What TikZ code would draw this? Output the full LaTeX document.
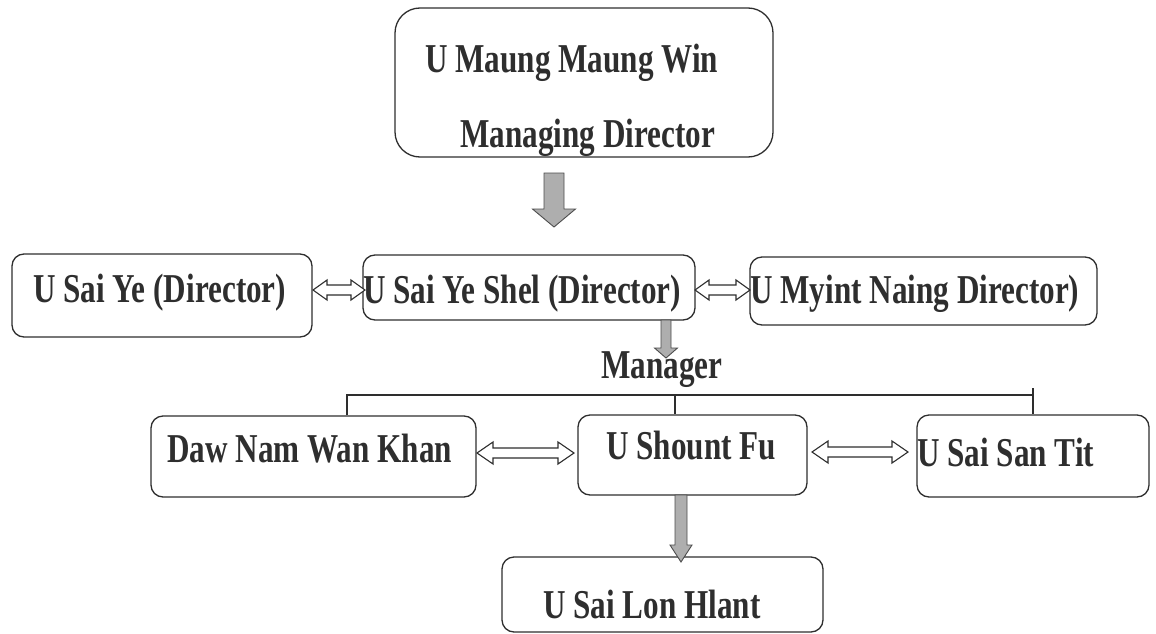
\documentclass[tikz,border=0pt]{standalone}
\usepackage{fontspec}
\setmainfont{Liberation Serif}[FakeStretch=0.76]
\usetikzlibrary{calc}
\definecolor{ink}{HTML}{2E2E2E}
\definecolor{arrgray}{HTML}{AEAEAE}
\tikzset{
  box/.style={draw=ink, line width=1.3pt, rounded corners=12pt, inner sep=0pt},
  lbl/.style={anchor=base west, inner sep=0pt, text=ink, font=\fontsize{41}{45}\selectfont\bfseries},
  orgline/.style={draw=ink, line width=1.2pt},
  dblarrowstyle/.style={draw=ink, line width=1.1pt, fill=white, line join=miter},
  grayarrowstyle/.style={draw=ink!85, line width=0.9pt, fill=arrgray, line join=miter}
}
% down block arrow: #1 style, #2 x, #3 ytop, #4 ybot, #5 shaft width, #6 head width, #7 head length
\newcommand\vblk[7]{%
  \pgfmathsetmacro\vbs{#5/2}\pgfmathsetmacro\vbh{#6/2}\pgfmathsetmacro\vbn{#4-#7}%
  \draw[#1] (#2-\vbs,#3) -- (#2+\vbs,#3) -- (#2+\vbs,\vbn) -- (#2+\vbh,\vbn) -- (#2,#4)
    -- (#2-\vbh,\vbn) -- (#2-\vbs,\vbn) -- cycle;}
% horizontal double block arrow: #1 style, #2 x1, #3 x2, #4 y, #5 shaft, #6 head width, #7 head length
\newcommand\hdblk[7]{%
  \pgfmathsetmacro\hbs{#5/2}\pgfmathsetmacro\hbh{#6/2}%
  \pgfmathsetmacro\hba{#2+#7}\pgfmathsetmacro\hbb{#3-#7}%
  \draw[#1] (#2,#4) -- (\hba,#4-\hbh) -- (\hba,#4-\hbs) -- (\hbb,#4-\hbs) -- (\hbb,#4-\hbh)
    -- (#3,#4) -- (\hbb,#4+\hbh) -- (\hbb,#4+\hbs) -- (\hba,#4+\hbs) -- (\hba,#4+\hbh) -- cycle;}
\begin{document}
\begin{tikzpicture}[x=1pt,y=-1pt]
\useasboundingbox (0,0) rectangle (1156,634);
% boxes
\node[box, rounded corners=25pt, minimum width=378pt, minimum height=149pt] (top) at (584,82.5) {};
\node[box, minimum width=300pt, minimum height=83pt] (b1) at (162,295.5) {};
\node[box, minimum width=332pt, minimum height=65pt] (b2) at (529,287.5) {};
\node[box, minimum width=347pt, minimum height=68pt] (b3) at (923.5,291) {};
\node[box, minimum width=325pt, minimum height=81pt] (daw) at (313.5,456.5) {};
\node[box, minimum width=229pt, minimum height=80pt] (shount) at (692.5,455) {};
\node[box, minimum width=232pt, minimum height=82pt] (san) at (1033,456) {};
\node[box, minimum width=321pt, minimum height=75pt] (lon) at (662.5,594.5) {};
% texts
\node[lbl] (t1) at (425,72) {U Maung Maung Win};
\node[lbl] (t2) at (460,147) {Managing Director};
\node[lbl] (t3) at (33,302) {U Sai Ye (Director)};
\node[lbl] (t4) at (363,303) {U Sai Ye Shel (Director)};
\node[lbl] (t5) at (750,303) {U Myint Naing Director)};
\node[lbl, anchor=base] (mgr) at (662,378) {Manager};
\node[lbl] (t6) at (167,462) {Daw Nam Wan Khan};
\node[lbl] (t7) at (606,459) {U Shount Fu};
\node[lbl] (t8) at (917,466) {U Sai San Tit};
\node[lbl] (t9) at (543,618) {U Sai Lon Hlant};
% gray block arrows
\vblk{grayarrowstyle}{554}{173}{227}{20}{43}{18}
\vblk{grayarrowstyle}{666}{320}{358}{10}{23}{10}
\vblk{grayarrowstyle}{681}{495}{562}{12}{22}{17}
% double block arrows
\hdblk{dblarrowstyle}{313}{365}{290}{10}{20}{14}
\hdblk{dblarrowstyle}{695}{750}{290}{10}{20}{14}
\hdblk{dblarrowstyle}{477}{574}{453}{10}{22}{16}
\hdblk{dblarrowstyle}{812}{908}{452}{10}{22}{16}
% organisation lines
\coordinate (busL) at (347,395);
\coordinate (busM) at (675,395);
\coordinate (busR) at (1033,395);
\draw[orgline] (busL |- daw.north) -- (busL) -- (busR) -- (busR |- san.north);
\draw[orgline] (busR) -- ++(0,-7);
\draw[orgline] (busM) -- (busM |- shount.north);
\end{tikzpicture}
\end{document}
